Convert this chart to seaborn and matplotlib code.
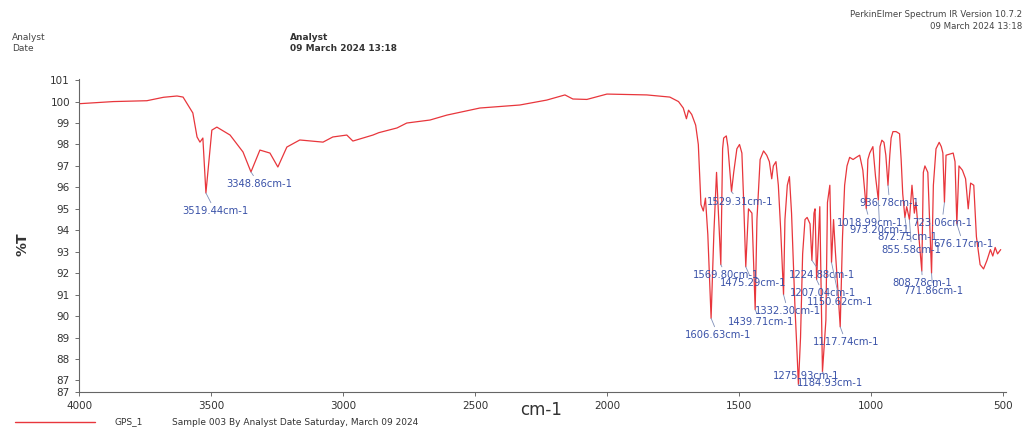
"""
IR spectrum (PerkinElmer Spectrum export look-alike) for sample GPS_1.
Values read off the exported picture.
"""

import matplotlib
matplotlib.use("Agg")
import matplotlib.pyplot as plt
import pandas as pd
import seaborn as sns

# spectrum, wavenumber [cm-1] vs transmittance [%T]
wavenumber = [
    4000, 3870, 3743, 3680, 3629, 3606, 3569, 3553, 3542, 3531, 3519.44, 3497,
    3478, 3428, 3379, 3348.86, 3315, 3277, 3247, 3213, 3164, 3076, 3039, 2986,
    2963, 2887, 2865, 2796, 2759, 2671, 2607, 2482, 2331, 2229, 2160, 2130,
    2077, 2001, 1850, 1763, 1730, 1712, 1700, 1692, 1680, 1665, 1655, 1645,
    1636, 1628, 1619, 1606.63, 1596, 1586, 1569.80, 1563, 1559, 1549, 1543,
    1529.31, 1521, 1509, 1499, 1490, 1484, 1475.29, 1465, 1452, 1439.71, 1433,
    1421, 1408, 1396, 1386, 1377, 1371, 1361, 1352, 1343, 1332.30, 1327, 1318,
    1310, 1302, 1289, 1283, 1275.93, 1268, 1260, 1251, 1243, 1232, 1224.88,
    1217, 1213, 1207.04, 1195, 1184.93, 1172, 1166, 1157, 1150.62, 1143, 1136,
    1129, 1117.74, 1109, 1101, 1092, 1082, 1069, 1057, 1044, 1032, 1018.99,
    1013, 1006, 994, 984, 973.20, 967, 960, 952, 945, 936.78, 930, 925, 918,
    906, 893, 887, 881, 872.75, 866, 855.58, 846, 837, 831, 808.78, 803, 797,
    786, 771.86, 765, 755, 743, 735, 729, 723.06, 717, 690, 683, 676.17, 668,
    655, 643, 633, 624, 612, 602, 588, 575, 562, 549, 540, 531, 522, 510,
]
transmittance = [
    99.90, 100.00, 100.04, 100.20, 100.26, 100.21, 99.47, 98.35, 98.11, 98.30,
    95.74, 98.67, 98.81, 98.44, 97.65, 96.72, 97.74, 97.60, 96.95, 97.88, 98.21,
    98.11, 98.35, 98.44, 98.16, 98.44, 98.55, 98.77, 99.00, 99.14, 99.37, 99.70,
    99.84, 100.07, 100.31, 100.12, 100.10, 100.35, 100.31, 100.21, 100.00,
    99.70, 99.20, 99.60, 99.40, 98.90, 98.00, 95.20, 94.90, 95.50, 93.80, 89.90,
    93.90, 96.70, 92.40, 97.80, 98.30, 98.40, 97.90, 95.80, 96.70, 97.80, 98.00,
    97.60, 95.60, 92.30, 95.00, 94.80, 90.30, 94.50, 97.30, 97.70, 97.50, 97.20,
    96.40, 97.00, 97.20, 96.10, 94.00, 91.00, 94.50, 96.10, 96.50, 94.80, 90.40,
    88.80, 86.80, 89.00, 92.90, 94.50, 94.60, 94.30, 92.60, 94.80, 95.00, 91.70,
    95.10, 87.40, 89.80, 95.30, 96.10, 92.50, 94.50, 93.00, 91.70, 89.50, 93.70,
    96.10, 97.00, 97.40, 97.30, 97.40, 97.50, 96.80, 95.00, 97.30, 97.60, 97.90,
    96.50, 95.40, 97.90, 98.20, 98.10, 97.50, 96.10, 97.50, 98.30, 98.60, 98.60,
    98.50, 97.30, 95.70, 94.60, 95.10, 94.50, 96.10, 94.80, 95.30, 92.10, 96.70,
    97.00, 96.70, 92.00, 96.10, 97.80, 98.10, 97.90, 97.60, 95.30, 97.50, 97.60,
    97.20, 94.30, 97.00, 96.80, 96.40, 95.00, 96.20, 96.10, 93.70, 92.40, 92.20,
    92.60, 93.10, 92.80, 93.20, 92.90, 93.10,
]

# picked peaks: position, depth, and where the blue label sits
peak_wn = [3519.44, 3348.86, 1606.63, 1569.80, 1529.31, 1475.29, 1439.71,
           1332.30, 1275.93, 1224.88, 1207.04, 1184.93, 1150.62, 1117.74,
           1018.99, 973.20, 936.78, 872.75, 855.58, 808.78, 771.86, 723.06,
           676.17]
peak_t = [95.74, 96.72, 89.90, 92.40, 95.80, 92.30, 90.30, 91.00, 86.80, 92.60,
          91.70, 87.40, 92.50, 89.50, 95.00, 95.40, 96.10, 94.60, 94.50, 92.10,
          92.00, 95.30, 94.30]
label_wn = [3610, 3444, 1706, 1676, 1623, 1574, 1544, 1441, 1373, 1312, 1309,
            1282, 1245, 1222, 1130, 1082, 1044, 976, 961, 919, 881, 846, 766]
label_t = [94.90, 96.16, 89.12, 91.91, 95.32, 91.54, 89.72, 90.24, 87.20, 91.91,
           91.07, 86.90, 90.65, 88.79, 94.36, 94.02, 95.27, 93.69, 93.08, 91.54,
           91.17, 94.36, 93.36]

x_ticks = [4000, 3500, 3000, 2500, 2000, 1500, 1000, 500]
y_ticks = [86.46] + list(range(87, 102))
y_tick_labels = ["87"] + [str(v) for v in range(87, 102)]

RED = "#e8363c"
BLUE = "#3a52a8"

spec = pd.DataFrame({"wavenumber": wavenumber, "T": transmittance})

sns.set_style("ticks")
plt.rcParams["font.family"] = ["DejaVu Sans"]

fig = plt.figure(figsize=(10.26, 4.28), dpi=100)
ax = fig.add_axes([0.077, 0.084, 0.9035, 0.7313])

sns.lineplot(data=spec, x="wavenumber", y="T", sort=False, estimator=None,
             color=RED, lw=0.9, ax=ax)

for wn, t, lw_, lt in zip(peak_wn, peak_t, label_wn, label_t):
    ax.annotate(f"{wn:.2f}cm-1", xy=(wn, t), xytext=(lw_, lt),
                ha="left", va="center", fontsize=7.2, color=BLUE,
                arrowprops=dict(arrowstyle="-", color="#7f8fb8", lw=0.6,
                                shrinkA=0, shrinkB=0))

ax.set_xlim(4000, 490)
ax.set_ylim(86.46, 101.05)
ax.set_xticks(x_ticks)
ax.set_xticklabels([str(v) for v in x_ticks])
ax.set_yticks(y_ticks)
ax.set_yticklabels(y_tick_labels)
ax.tick_params(labelsize=7.5, length=3, width=0.6, colors="#555555",
               labelcolor="#333333")
ax.set_xlabel("")
ax.set_ylabel("")
sns.despine(ax=ax)
for side in ["left", "bottom"]:
    ax.spines[side].set_color("#666666")
    ax.spines[side].set_linewidth(0.8)

fig.text(0.022, 0.43, "%T", rotation=90, fontsize=10, fontweight="bold",
         color="#333333", ha="center", va="center")
fig.text(0.527, 0.042, "cm-1", fontsize=12, color="#333333",
         ha="center", va="center")

# header block
fig.text(0.012, 0.913, "Analyst", fontsize=6.5, color="#444444", va="center")
fig.text(0.012, 0.886, "Date", fontsize=6.5, color="#444444", va="center")
fig.text(0.283, 0.913, "Analyst", fontsize=6.5, color="#333333",
         fontweight="bold", va="center")
fig.text(0.283, 0.886, "09 March 2024 13:18", fontsize=6.5, color="#333333",
         fontweight="bold", va="center")
fig.text(0.996, 0.965, "PerkinElmer Spectrum IR Version 10.7.2", fontsize=6.2,
         color="#444444", ha="right", va="center")
fig.text(0.996, 0.938, "09 March 2024 13:18", fontsize=6.2, color="#444444",
         ha="right", va="center")

# legend strip at the bottom
fig.add_artist(plt.Line2D([0.015, 0.093], [0.014, 0.014], color=RED, lw=1.0))
fig.text(0.112, 0.014, "GPS_1", fontsize=6.5, color="#333333", va="center")
fig.text(0.168, 0.014, "Sample 003 By Analyst Date Saturday, March 09 2024",
         fontsize=6.5, color="#333333", va="center")

fig.savefig("out.png", dpi=100)
plt.close(fig)
